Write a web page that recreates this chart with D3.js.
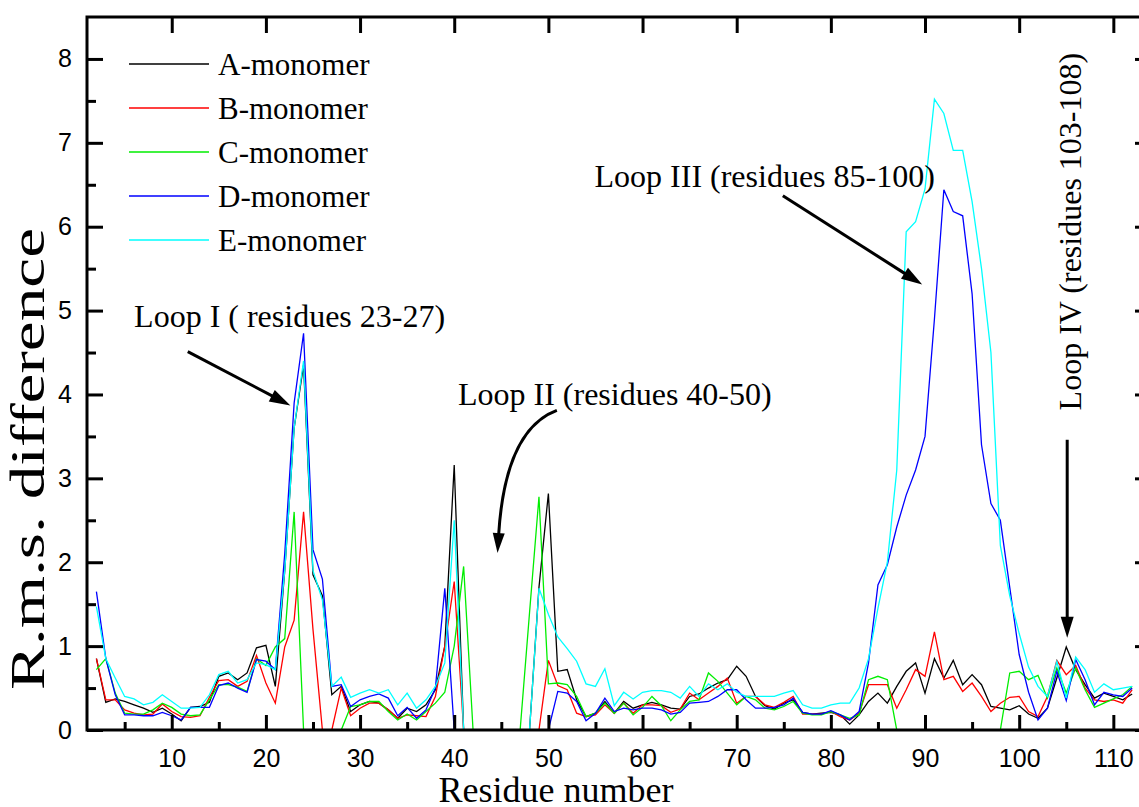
<!DOCTYPE html>
<html>
<head>
<meta charset="utf-8">
<script src="https://cdn.jsdelivr.net/npm/d3@7"></script>
<style>
  html, body { margin: 0; padding: 0; background: #ffffff; overflow: hidden; }
  svg { display: block; }
  .tick-label { font-family: "Liberation Sans", Arial, sans-serif; font-size: 25px; fill: #000; }
  .serif { font-family: "Liberation Serif", "Times New Roman", serif; fill: #000; }
</style>
</head>
<body>
<svg id="chart" width="1139" height="807"></svg>
<script>
// Residue numbers along the sequence (2 .. 112)
const residues = d3.range(2, 113);

// R.m.s. difference per residue for each monomer
const monomerA = [
  0.85, 0.33, 0.37, 0.34, 0.30, 0.26, 0.21, 0.26, 0.19, 0.11,
  0.27, 0.28, 0.33, 0.64, 0.68, 0.60, 0.68, 0.98, 1.01, 0.52,
  1.90, 3.60, 4.35, 1.85, 1.60, 0.42, 0.52, 0.22, 0.30, 0.34,
  0.32, 0.24, 0.14, 0.26, 0.22, 0.30, 0.48, 1.00, 3.16, 0.00,
  0.00, 0.00, 0.00, 0.00, 0.00, 0.00, 0.00, 1.70, 2.82, 0.70,
  0.72, 0.36, 0.16, 0.20, 0.34, 0.20, 0.34, 0.26, 0.30, 0.33,
  0.30, 0.26, 0.25, 0.40, 0.43, 0.50, 0.56, 0.60, 0.76, 0.64,
  0.40, 0.29, 0.25, 0.32, 0.36, 0.21, 0.19, 0.20, 0.21, 0.18,
  0.07, 0.18, 0.34, 0.44, 0.32, 0.52, 0.70, 0.80, 0.44, 0.85,
  0.62, 0.83, 0.54, 0.66, 0.54, 0.28, 0.26, 0.24, 0.29, 0.19,
  0.14, 0.26, 0.62, 0.99, 0.72, 0.54, 0.38, 0.44, 0.40, 0.36,
  0.43
];
const monomerB = [
  0.85, 0.36, 0.36, 0.24, 0.20, 0.18, 0.19, 0.31, 0.22, 0.16,
  0.15, 0.17, 0.39, 0.59, 0.60, 0.52, 0.58, 0.89, 0.56, 0.32,
  0.99, 1.31, 2.60, 1.20, 0.00, 0.00, 0.50, 0.17, 0.26, 0.32,
  0.32, 0.24, 0.14, 0.18, 0.17, 0.16, 0.40, 1.00, 1.77, 0.00,
  0.00, 0.00, 0.00, 0.00, 0.00, 0.00, 0.00, 0.00, 0.83, 0.53,
  0.48, 0.20, 0.16, 0.18, 0.30, 0.20, 0.32, 0.20, 0.30, 0.30,
  0.29, 0.21, 0.25, 0.44, 0.36, 0.44, 0.52, 0.62, 0.32, 0.40,
  0.40, 0.30, 0.27, 0.33, 0.40, 0.19, 0.19, 0.19, 0.22, 0.16,
  0.12, 0.20, 0.54, 0.54, 0.54, 0.26, 0.48, 0.72, 0.64, 1.17,
  0.60, 0.64, 0.46, 0.56, 0.40, 0.22, 0.32, 0.39, 0.40, 0.22,
  0.16, 0.40, 0.83, 0.66, 0.77, 0.50, 0.36, 0.34, 0.36, 0.32,
  0.48
];
const monomerC = [
  0.72, 0.85, 0.44, 0.20, 0.19, 0.19, 0.24, 0.32, 0.27, 0.19,
  0.17, 0.18, 0.36, 0.54, 0.54, 0.51, 0.46, 0.85, 0.77, 0.99,
  1.09, 2.60, 0.00, 0.00, 0.00, 0.00, 0.00, 0.28, 0.30, 0.34,
  0.34, 0.22, 0.12, 0.19, 0.12, 0.22, 0.32, 0.45, 1.00, 1.95,
  0.00, 0.00, 0.00, 0.00, 0.00, 0.00, 1.40, 2.78, 0.55, 0.56,
  0.54, 0.40, 0.16, 0.20, 0.32, 0.20, 0.32, 0.18, 0.27, 0.40,
  0.29, 0.11, 0.24, 0.34, 0.36, 0.68, 0.58, 0.44, 0.30, 0.40,
  0.36, 0.26, 0.24, 0.28, 0.34, 0.20, 0.18, 0.18, 0.22, 0.18,
  0.14, 0.18, 0.60, 0.64, 0.60, 0.00, 0.00, 0.00, 0.00, 0.00,
  0.00, 0.00, 0.00, 0.00, 0.00, 0.00, 0.00, 0.68, 0.70, 0.60,
  0.65, 0.38, 0.74, 0.44, 0.74, 0.48, 0.27, 0.32, 0.37, 0.42,
  0.52
];
const monomerD = [
  1.65, 0.85, 0.42, 0.18, 0.18, 0.17, 0.17, 0.21, 0.17, 0.12,
  0.27, 0.27, 0.27, 0.53, 0.56, 0.50, 0.45, 0.84, 0.82, 0.72,
  2.10, 3.90, 4.73, 2.15, 1.80, 0.52, 0.54, 0.28, 0.36, 0.40,
  0.43, 0.38, 0.17, 0.27, 0.14, 0.24, 0.50, 1.69, 0.00, 0.00,
  0.00, 0.00, 0.00, 0.00, 0.00, 0.00, 0.00, 0.00, 0.00, 0.46,
  0.44, 0.34, 0.11, 0.20, 0.38, 0.22, 0.26, 0.24, 0.26, 0.26,
  0.24, 0.19, 0.21, 0.32, 0.33, 0.34, 0.40, 0.48, 0.48, 0.36,
  0.26, 0.26, 0.27, 0.30, 0.38, 0.21, 0.19, 0.19, 0.23, 0.18,
  0.12, 0.22, 0.80, 1.73, 1.97, 2.42, 2.80, 3.10, 3.50, 4.90,
  6.44, 6.18, 6.13, 5.20, 3.40, 2.70, 2.50, 1.70, 0.90, 0.45,
  0.12, 0.26, 0.70, 0.35, 0.84, 0.60, 0.30, 0.45, 0.42, 0.40,
  0.50
];
const monomerE = [
  1.47, 0.85, 0.62, 0.40, 0.37, 0.30, 0.33, 0.42, 0.34, 0.26,
  0.26, 0.27, 0.42, 0.66, 0.70, 0.56, 0.60, 0.80, 0.78, 0.72,
  1.90, 3.60, 4.40, 1.90, 1.55, 0.52, 0.63, 0.39, 0.44, 0.48,
  0.44, 0.48, 0.30, 0.44, 0.26, 0.36, 0.52, 0.80, 2.50, 0.00,
  0.00, 0.00, 0.00, 0.00, 0.00, 0.00, 0.00, 1.69, 1.38, 1.11,
  0.97, 0.82, 0.55, 0.52, 0.73, 0.29, 0.45, 0.37, 0.45, 0.47,
  0.47, 0.45, 0.38, 0.52, 0.40, 0.55, 0.48, 0.55, 0.45, 0.40,
  0.40, 0.40, 0.40, 0.44, 0.47, 0.30, 0.26, 0.26, 0.30, 0.32,
  0.32, 0.50, 0.85, 1.45, 2.00, 3.10, 5.94, 6.06, 6.45, 7.52,
  7.35, 6.91, 6.91, 6.30, 5.50, 4.50, 2.20, 1.60, 1.15, 0.75,
  0.52, 0.40, 0.82, 0.38, 0.87, 0.72, 0.45, 0.55, 0.48, 0.50,
  0.52
];

const seriesNames = ["A-monomer", "B-monomer", "C-monomer", "D-monomer", "E-monomer"];
const seriesValues = [monomerA, monomerB, monomerC, monomerD, monomerE];
const seriesColors = ["#000000", "#ff0000", "#00ee00", "#0000ff", "#00ffff"];

const xMajorTicks = d3.range(10, 111, 10);
const xMinorTicks = d3.range(5, 111, 10);
const yMajorTicks = d3.range(0, 9, 1);
const yMinorTicks = d3.range(0.5, 8.5, 1);

// Loop annotations, positioned in data units
const loopLabels = [
  { text: "Loop I ( residues 23-27)",  res: 6.0,  val: 4.80, rotate: false },
  { text: "Loop II (residues 40-50)",  res: 40.4, val: 3.87, rotate: false },
  { text: "Loop III (residues 85-100)", res: 54.9, val: 6.47, rotate: false },
  { text: "Loop IV (residues 103-108)", res: 106.6, val: 3.81, rotate: true }
];
const straightArrows = [
  { from: [11.7, 4.51], to: [22.6, 3.87] },
  { from: [74.9, 6.37], to: [89.7, 5.31] },
  { from: [105.1, 3.46], to: [105.1, 1.10] }
];
const curvedArrow = { from: [50.9, 3.81], ctrl: [45.4, 3.58], to: [44.6, 2.11] };

const svg = d3.select("#chart");
const W = 1139, H = 807;
svg.append("rect").attr("width", W).attr("height", H).attr("fill", "#fff");

const x = d3.scaleLinear().domain([1, 114]).range([87, 1151]);
const y = d3.scaleLinear().domain([0, 8.5]).range([730, 17]);

// Data lines
const line = d3.line()
  .x((d, i) => x(residues[i]))
  .y(d => y(d));

const linesG = svg.append("g").attr("class", "series");
seriesValues.forEach((vals, k) => {
  linesG.append("path")
    .datum(vals)
    .attr("d", line)
    .attr("fill", "none")
    .attr("stroke", seriesColors[k])
    .attr("stroke-width", 1.3)
    .attr("stroke-linejoin", "miter");
});

// Axes (ticks point inward)
function styleAxis(g, width) {
  g.select(".domain").remove();
  g.selectAll(".tick line").attr("stroke", "#000").attr("stroke-width", width);
  g.selectAll(".tick text").attr("class", "tick-label").attr("fill", "#000");
}

const bottomMajor = svg.append("g")
  .attr("transform", `translate(0,${y(0)})`)
  .call(d3.axisBottom(x).tickValues(xMajorTicks).tickSizeInner(-15).tickSizeOuter(0)
    .tickPadding(19).tickFormat(d3.format("d")));
styleAxis(bottomMajor, 3);
bottomMajor.selectAll(".tick text").attr("dy", "0.71em");

const bottomMinor = svg.append("g")
  .attr("transform", `translate(0,${y(0)})`)
  .call(d3.axisBottom(x).tickValues(xMinorTicks).tickSizeInner(-8).tickSizeOuter(0).tickFormat(""));
styleAxis(bottomMinor, 3);

const topMajor = svg.append("g")
  .attr("transform", `translate(0,${y(8.5)})`)
  .call(d3.axisTop(x).tickValues(xMajorTicks).tickSizeInner(-16).tickSizeOuter(0).tickFormat(""));
styleAxis(topMajor, 3);

const leftMajor = svg.append("g")
  .attr("transform", `translate(${x(1)},0)`)
  .call(d3.axisLeft(y).tickValues(yMajorTicks).tickSizeInner(-16).tickSizeOuter(0)
    .tickPadding(15).tickFormat(d3.format("d")));
styleAxis(leftMajor, 3);

const leftMinor = svg.append("g")
  .attr("transform", `translate(${x(1)},0)`)
  .call(d3.axisLeft(y).tickValues(yMinorTicks).tickSizeInner(-9).tickSizeOuter(0).tickFormat(""));
styleAxis(leftMinor, 3);

const rightMajor = svg.append("g")
  .attr("transform", `translate(${x(114)},0)`)
  .call(d3.axisRight(y).tickValues(yMajorTicks).tickSizeInner(-16).tickSizeOuter(0).tickFormat(""));
styleAxis(rightMajor, 3);

// Frame
svg.append("rect")
  .attr("x", x(1)).attr("y", y(8.5))
  .attr("width", x(114) - x(1)).attr("height", y(0) - y(8.5))
  .attr("fill", "none").attr("stroke", "#000").attr("stroke-width", 3);

// Axis titles
svg.append("text").attr("class", "serif")
  .attr("x", 556).attr("y", 802)
  .attr("text-anchor", "middle")
  .attr("font-size", 36)
  .text("Residue number");

svg.append("text").attr("class", "serif")
  .attr("transform", "translate(44,459) rotate(-90)")
  .attr("text-anchor", "middle")
  .attr("font-size", 48)
  .attr("textLength", 462)
  .attr("lengthAdjust", "spacingAndGlyphs")
  .text("R.m.s. difference");

// Legend
const legend = svg.append("g");
seriesNames.forEach((name, k) => {
  const ly = 64 + k * 44;
  legend.append("line")
    .attr("x1", 129).attr("x2", 209).attr("y1", ly).attr("y2", ly)
    .attr("stroke", seriesColors[k]).attr("stroke-width", 1.3);
  legend.append("text").attr("class", "serif")
    .attr("x", 218).attr("y", ly + 11)
    .attr("font-size", 31)
    .text(name);
});

// Annotations
const ann = svg.append("g");
loopLabels.forEach(l => {
  const t = ann.append("text").attr("class", "serif").attr("font-size", 32).text(l.text);
  if (l.rotate) {
    t.attr("transform", `translate(${x(l.res)},${y(l.val)}) rotate(-90)`);
  } else {
    t.attr("x", x(l.res)).attr("y", y(l.val));
  }
});

function arrowHead(tipX, tipY, ux, uy, len, half) {
  const bx = tipX - ux * len, by = tipY - uy * len;
  const px = -uy, py = ux;
  ann.append("path")
    .attr("d", `M${tipX},${tipY}L${bx + px * half},${by + py * half}L${bx - px * half},${by - py * half}Z`)
    .attr("fill", "#000");
  return [bx, by];
}

straightArrows.forEach(a => {
  const x1 = x(a.from[0]), y1 = y(a.from[1]);
  const x2 = x(a.to[0]), y2 = y(a.to[1]);
  const L = Math.hypot(x2 - x1, y2 - y1);
  const ux = (x2 - x1) / L, uy = (y2 - y1) / L;
  const [bx, by] = arrowHead(x2, y2, ux, uy, 21, 6.5);
  ann.append("line")
    .attr("x1", x1).attr("y1", y1).attr("x2", bx + ux * 2).attr("y2", by + uy * 2)
    .attr("stroke", "#000").attr("stroke-width", 3);
});

{
  const sx = x(curvedArrow.from[0]), sy = y(curvedArrow.from[1]);
  const cx = x(curvedArrow.ctrl[0]), cy = y(curvedArrow.ctrl[1]);
  const tx = x(curvedArrow.to[0]), ty = y(curvedArrow.to[1]);
  const dx = tx - cx, dy = ty - cy, L = Math.hypot(dx, dy);
  const ux = dx / L, uy = dy / L;
  const [bx, by] = arrowHead(tx, ty, ux, uy, 20, 6);
  ann.append("path")
    .attr("d", `M${sx},${sy}Q${cx},${cy} ${bx + ux * 2},${by + uy * 2}`)
    .attr("fill", "none").attr("stroke", "#000").attr("stroke-width", 3);
}
</script>
</body>
</html>
